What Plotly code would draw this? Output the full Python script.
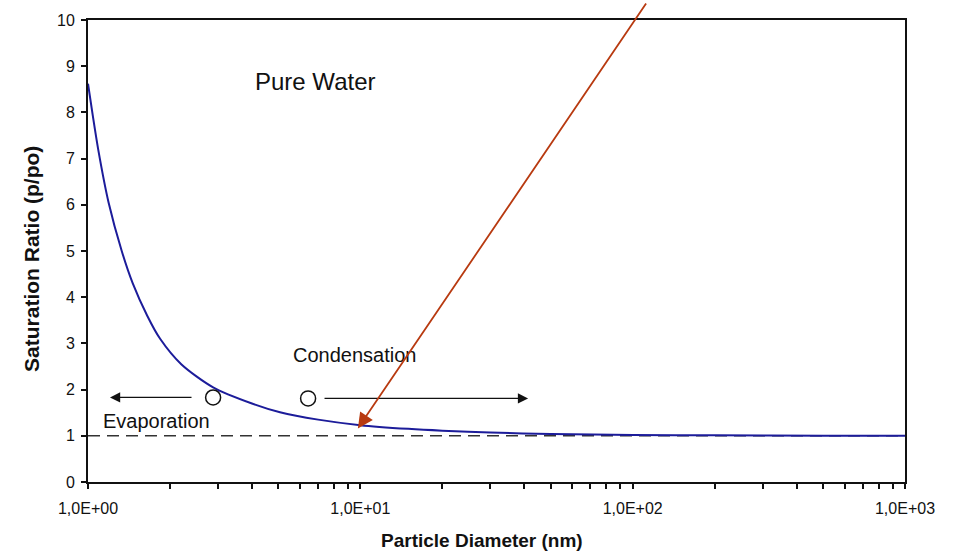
import plotly.graph_objects as go

# Data
diameter_nm = [1.0, 1.04, 1.09, 1.19, 1.33, 1.46, 1.65, 1.84, 2.2, 2.88, 4.0, 5.07, 7.0, 10.0, 15.0, 20.0, 30.0, 50.0, 100.0, 200.0, 500.0, 1000.0]
saturation = [8.62, 7.95, 7.2, 6.05, 5.0, 4.3, 3.6, 3.1, 2.55, 2.05, 1.7, 1.51, 1.35, 1.23, 1.15, 1.11, 1.07, 1.04, 1.02, 1.01, 1.0, 1.0]

major_ticks = [1, 10, 100, 1000]
major_labels = ["1,0E+00", "1,0E+01", "1,0E+02", "1,0E+03"]
minor_digits = [2, 3, 4, 5, 6, 7, 8, 9]
y_tick_vals = list(range(0, 11))

ref_line_y = [1, 1]
ref_line_x = [1, 1000]

circle_x = [2.88, 6.43]
circle_y = [1.83, 1.81]

FONT = "Arial, Liberation Sans, sans-serif"

# full tick list: majors labelled, minors blank
tickvals, ticktext = [], []
for i, m in enumerate(major_ticks):
    tickvals.append(m)
    ticktext.append(major_labels[i])
    if m < major_ticks[-1]:
        for d in minor_digits:
            tickvals.append(m * d)
            ticktext.append("")

fig = go.Figure()
fig.add_trace(go.Scatter(x=ref_line_x, y=ref_line_y, mode="lines",
                         line=dict(color="#333333", width=1.5, dash="12px,7px"),
                         showlegend=False, hoverinfo="skip"))
fig.add_trace(go.Scatter(x=diameter_nm, y=saturation, mode="lines",
                         line=dict(color="#1c1c9a", width=2, shape="spline", smoothing=0.8),
                         showlegend=False))
fig.add_trace(go.Scatter(x=circle_x, y=circle_y, mode="markers",
                         marker=dict(symbol="circle-open", size=15, color="#111111",
                                     line=dict(width=1.5, color="#111111")),
                         showlegend=False, cliponaxis=False))

annotations = [
    dict(x=0.834, y=8.66, xref="x", yref="y", text="Pure Water", showarrow=False,
         font=dict(family=FONT, size=24, color="#111111"), xanchor="center", yanchor="middle"),
    dict(x=0.98, y=2.74, xref="x", yref="y", text="Condensation", showarrow=False,
         font=dict(family=FONT, size=20, color="#111111"), xanchor="center", yanchor="middle"),
    dict(x=0.2533, y=1.33, xref="x", yref="y", text="Evaporation", showarrow=False,
         font=dict(family=FONT, size=20, color="#111111"), xanchor="center", yanchor="middle"),
    # left arrow (evaporation)
    dict(x=0.0808, y=1.83, ax=0.3856, ay=1.83, xref="x", yref="y", axref="x", ayref="y",
         text="", showarrow=True, arrowhead=2, arrowsize=1.7, arrowwidth=1.2, arrowcolor="#111111"),
    # right arrow (condensation)
    dict(x=1.616, y=1.81, ax=0.863, ay=1.81, xref="x", yref="y", axref="x", ayref="y",
         text="", showarrow=True, arrowhead=2, arrowsize=1.7, arrowwidth=1.2, arrowcolor="#111111"),
    # red pointer arrow
    dict(x=0.991, y=1.16, ax=2.053, ay=10.39, xref="x", yref="y", axref="x", ayref="y",
         text="", showarrow=True, arrowhead=2, arrowsize=1.7, arrowwidth=1.8, arrowcolor="#b83a10"),
    # axis titles
    dict(x=(482 - 88) / 817, y=-59 / 464, xref="paper", yref="paper", text="<b>Particle Diameter (nm)</b>",
         showarrow=False, font=dict(family=FONT, size=19, color="#111111"),
         xanchor="center", yanchor="middle"),
    dict(x=-56 / 817, y=(482 - 258) / 464, xref="paper", yref="paper", text="<b>Saturation Ratio (p/po)</b>",
         showarrow=False, textangle=-90, font=dict(family=FONT, size=21, color="#111111"),
         xanchor="center", yanchor="middle"),
]

fig.update_layout(
    width=953, height=553,
    margin=dict(l=88, r=48, t=18, b=71),
    paper_bgcolor="white", plot_bgcolor="white",
    font=dict(family=FONT, size=16, color="#111111"),
    annotations=annotations,
    showlegend=False,
)
fig.update_xaxes(type="log", range=[0, 3], tickvals=tickvals, ticktext=ticktext,
                 ticks="outside", ticklen=5, tickwidth=1.5, tickcolor="#111111",
                 ticklabelstandoff=6,
                 showgrid=False, zeroline=False, showline=True, linecolor="#111111", linewidth=2,
                 mirror=True, tickfont=dict(family=FONT, size=16, color="#111111"))
fig.update_yaxes(range=[0, 10], tickvals=y_tick_vals,
                 ticks="outside", ticklen=5, tickwidth=1.5, tickcolor="#111111",
                 ticklabelstandoff=3,
                 showgrid=False, zeroline=False, showline=True, linecolor="#111111", linewidth=2,
                 mirror=True, tickfont=dict(family=FONT, size=16, color="#111111"))

fig.write_html("out.html")
